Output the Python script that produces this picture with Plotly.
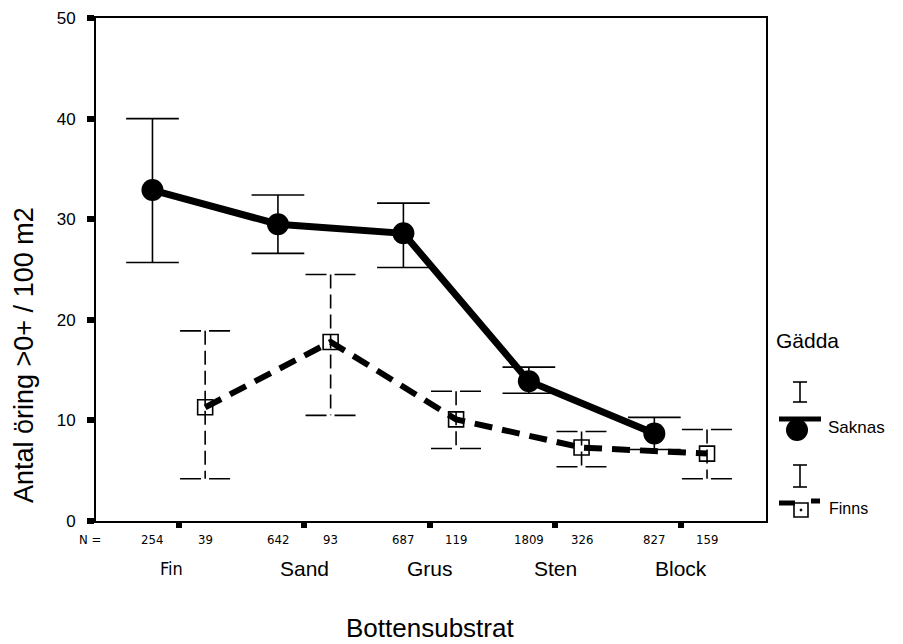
import plotly.graph_objects as go

# ---- data -------------------------------------------------------------
categories = ["Fin", "Sand", "Grus", "Sten", "Block"]
n_saknas = [254, 642, 687, 1809, 827]
n_finns = [39, 93, 119, 326, 159]

saknas_mean = [32.9, 29.5, 28.6, 13.9, 8.7]
saknas_low = [25.7, 26.6, 25.2, 12.7, 7.1]
saknas_high = [40.0, 32.4, 31.6, 15.3, 10.3]

finns_mean = [11.3, 17.8, 10.1, 7.3, 6.7]
finns_low = [4.2, 10.5, 7.2, 5.4, 4.2]
finns_high = [18.9, 24.5, 12.9, 8.9, 9.1]

y_ticks = [0, 10, 20, 30, 40, 50]

# ---- geometry helpers -------------------------------------------------
FONT = "Liberation Sans, Arial, sans-serif"
NARROW = "Liberation Sans Narrow, Arial Narrow, DejaVu Sans Condensed, sans-serif"
W, H = 903, 644
ML, MT, MB = 96, 18, 123
PLOT_RIGHT = 766           # right edge of the data frame (px)
LEG_LEFT = 769             # left edge of the legend panel (px)

centers = list(range(1, len(categories) + 1))
OFFSET = 0.21
x_saknas = [c - OFFSET for c in centers]
x_finns = [c + OFFSET for c in centers]


def error_paths(xs, lo, hi, half):
    vx, vy, cx, cy = [], [], [], []
    for x, l, h in zip(xs, lo, hi):
        vx += [x, x, None]
        vy += [h, l, None]
        cx += [x - half, x + half, None, x - half, x + half, None]
        cy += [h, h, None, l, l, None]
    return vx, vy, cx, cy


fig = go.Figure()

# error bars: solid for Saknas, dashed for Finns
sx, sy, scx, scy = error_paths(x_saknas, saknas_low, saknas_high, 0.21)
fx, fy, fcx, fcy = error_paths(x_finns, finns_low, finns_high, 0.20)

fig.add_trace(go.Scatter(x=sx, y=sy, mode="lines", showlegend=False,
                         line=dict(color="black", width=1.6), hoverinfo="skip"))
fig.add_trace(go.Scatter(x=scx, y=scy, mode="lines", showlegend=False,
                         line=dict(color="black", width=1.6), hoverinfo="skip"))
fig.add_trace(go.Scatter(x=fx, y=fy, mode="lines", showlegend=False,
                         line=dict(color="black", width=1.6, dash="14px,6px"),
                         hoverinfo="skip"))
fig.add_trace(go.Scatter(x=fcx, y=fcy, mode="lines", showlegend=False,
                         line=dict(color="black", width=1.6, dash="21px,8px"),
                         hoverinfo="skip"))

# mean lines
fig.add_trace(go.Scatter(
    x=x_finns, y=finns_mean, mode="lines+markers", name="Finns", showlegend=False,
    line=dict(color="black", width=6, dash="18px,10px"),
    marker=dict(symbol="square-open", size=15, color="black",
                line=dict(width=1.6, color="black"))))
fig.add_trace(go.Scatter(
    x=x_saknas, y=saknas_mean, mode="lines+markers", name="Saknas", showlegend=False,
    line=dict(color="black", width=7),
    marker=dict(symbol="circle", size=22, color="black")))

# ---- legend panel (pixel coordinates on its own hidden axes) ---------
def i_glyph(xc, top, bottom, half=7):
    return ([xc, xc, None, xc - half, xc + half, None, xc - half, xc + half],
            [top, bottom, None, top, top, None, bottom, bottom])


for top, bottom in [(382, 402), (465, 487)]:
    gx, gy = i_glyph(800, top, bottom)
    fig.add_trace(go.Scatter(x=gx, y=gy, xaxis="x2", yaxis="y2", mode="lines",
                             showlegend=False, hoverinfo="skip",
                             line=dict(color="black", width=1.6)))

# Saknas key: bar over a filled blob
fig.add_trace(go.Scatter(x=[779, 821], y=[419, 419], xaxis="x2", yaxis="y2",
                         mode="lines", showlegend=False, hoverinfo="skip",
                         line=dict(color="black", width=5)))
fig.add_trace(go.Scatter(x=[797], y=[430], xaxis="x2", yaxis="y2",
                         mode="markers", showlegend=False, hoverinfo="skip",
                         marker=dict(symbol="circle", size=22, color="black")))
# Finns key: dashed bar with an open square
fig.add_trace(go.Scatter(x=[779, 795, None, 811, 820], y=[503, 503, None, 501, 501],
                         xaxis="x2", yaxis="y2", mode="lines", showlegend=False,
                         hoverinfo="skip", line=dict(color="black", width=5)))
fig.add_trace(go.Scatter(x=[801], y=[510], xaxis="x2", yaxis="y2",
                         mode="markers", showlegend=False, hoverinfo="skip",
                         marker=dict(symbol="square-open-dot", size=14, color="black",
                                     line=dict(width=1.6, color="black"))))

annotations = []
# legend texts
annotations.append(dict(text="Gädda", x=774, y=340, xref="x2", yref="y2",
                        xanchor="left", yanchor="middle", showarrow=False,
                        font=dict(family=FONT, size=21, color="black")))
annotations.append(dict(text="Saknas", x=826, y=427, xref="x2", yref="y2",
                        xanchor="left", yanchor="middle", showarrow=False,
                        font=dict(family=FONT, size=17, color="black")))
annotations.append(dict(text="Finns", x=827, y=508, xref="x2", yref="y2",
                        xanchor="left", yanchor="middle", showarrow=False,
                        font=dict(family=FONT, size=16, color="black")))

# N counts under each group
annotations.append(dict(text="N =", x=0.34, y=0, xref="x", yref="paper",
                        xanchor="center", yanchor="middle", xshift=-6, yshift=-18,
                        showarrow=False, font=dict(family=NARROW, size=13, color="black")))
for xs, ns in [(x_saknas, n_saknas), (x_finns, n_finns)]:
    for x, n in zip(xs, ns):
        annotations.append(dict(text=str(n), x=x, y=0, xref="x", yref="paper",
                                xanchor="center", yanchor="middle", yshift=-18,
                                showarrow=False,
                                font=dict(family=NARROW, size=13, color="black")))

# category names ("Fin" is set in a narrower face)
for c, name in zip(centers, categories):
    narrow = name == "Fin"
    annotations.append(dict(text=name, x=c - (0.06 if narrow else 0), y=0,
                            xref="x", yref="paper",
                            xanchor="center", yanchor="middle", yshift=-47,
                            showarrow=False,
                            font=dict(family=NARROW if narrow else FONT,
                                      size=18 if narrow else 21, color="black")))

# axis titles
annotations.append(dict(text="Bottensubstrat", x=3.0, y=0, xref="x", yref="paper",
                        xanchor="center", yanchor="middle", yshift=-107, showarrow=False,
                        font=dict(family=FONT, size=26, color="black")))
annotations.append(dict(text="Antal öring >0+ / 100 m2", x=0, y=0.33, xref="paper",
                        yref="paper", xanchor="center", yanchor="middle", xshift=-72,
                        textangle=-90, showarrow=False,
                        font=dict(family=FONT, size=27, color="black")))

plot_w = W - ML
fig.update_layout(
    width=W, height=H,
    margin=dict(l=ML, r=0, t=MT, b=MB, pad=0),
    paper_bgcolor="white", plot_bgcolor="white",
    showlegend=False,
    annotations=annotations,
    xaxis=dict(domain=[0, (PLOT_RIGHT - ML) / plot_w], range=[0.34, 5.68],
               tickvals=centers, showticklabels=False, ticks="outside",
               ticklen=5, tickwidth=6, tickcolor="black",
               showline=True, linecolor="black", linewidth=2, mirror=True,
               showgrid=False, zeroline=False, fixedrange=True),
    yaxis=dict(range=[0, 50], tickvals=y_ticks, ticks="outside", ticklen=7,
               tickwidth=6, tickcolor="black", ticklabelstandoff=8,
               tickfont=dict(family=FONT, size=17, color="black"),
               showline=True, linecolor="black", linewidth=2, mirror=True,
               showgrid=False, zeroline=False, fixedrange=True),
    xaxis2=dict(domain=[(LEG_LEFT - ML) / plot_w, 1], range=[LEG_LEFT, W],
                visible=False, fixedrange=True),
    yaxis2=dict(domain=[0, 1], range=[H - MB, MT], anchor="x2",
                visible=False, fixedrange=True),
)

fig.write_html("out.html")
